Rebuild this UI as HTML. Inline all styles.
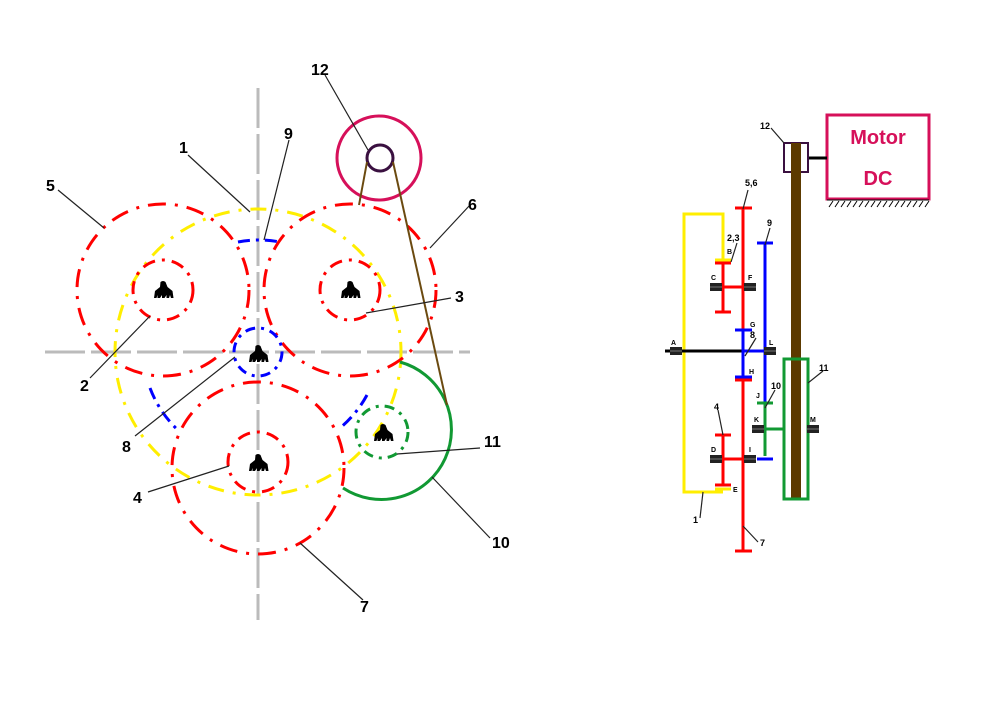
<!DOCTYPE html>
<html><head><meta charset="utf-8"><style>
html,body{margin:0;padding:0;background:#fff;}
svg{display:block;}
text{font-family:"Liberation Sans",Arial,sans-serif;font-weight:700;}
</style></head><body>
<svg width="1000" height="707" viewBox="0 0 1000 707" xmlns="http://www.w3.org/2000/svg">
<defs>
<g id="sp"><path d="M-2.5,-10 a4,4 0 0 1 5,0 l2,5 l5,4 l1,7 l-2.5,0 l-1,-3 l-1,3 l-2.5,0 l0,-3 l-2,3 l-2.5,0 l0,-3 l-2,3 l-2.5,0 l0,-3 l-1,3 l-2.5,0 l1,-7 l5,-4z" fill="#000"/></g>
<g id="br"><rect x="-6" y="-4" width="12" height="8" fill="#222"/><line x1="-6" y1="0" x2="6" y2="0" stroke="#777" stroke-width="1"/></g>
</defs>
<line x1="45" y1="352" x2="470" y2="352" stroke="#bbb" stroke-width="3" stroke-dasharray="40,6"/>
<line x1="258" y1="88" x2="258" y2="620" stroke="#bbb" stroke-width="3" stroke-dasharray="40,6"/>
<g fill="none" stroke-width="3">
<circle cx="258" cy="352" r="143" stroke="#ffee00" stroke-dasharray="16,9,3,9"/>
<circle cx="163" cy="290" r="86" stroke="#f00" stroke-dasharray="18,9,3,9"/>
<circle cx="350" cy="290" r="86" stroke="#f00" stroke-dasharray="18,9,3,9"/>
<circle cx="258" cy="468" r="86" stroke="#f00" stroke-dasharray="18,9,3,9"/>
<circle cx="163" cy="290" r="30" stroke="#f00" stroke-dasharray="13,7,3,7"/>
<circle cx="350" cy="290" r="30" stroke="#f00" stroke-dasharray="13,7,3,7"/>
<circle cx="258" cy="462" r="30" stroke="#f00" stroke-dasharray="13,7,3,7"/>
<circle cx="258" cy="352" r="24" stroke="#00f" stroke-dasharray="10,6,3,6"/>
<path d="M238,242 A112,112 0 0 1 280,242" stroke="#00f" stroke-dasharray="12,6,3,6"/>
<path d="M150,388 A112,112 0 0 0 180,432" stroke="#00f" stroke-dasharray="12,6,3,6"/>
<path d="M367,395 A112,112 0 0 1 340,428" stroke="#00f" stroke-dasharray="12,6,3,6"/>
<circle cx="382" cy="432" r="26" stroke="#119933" stroke-dasharray="10,6,3,6"/>
<path d="M400,362 A70,70 0 1 1 343,488" stroke="#119933"/>
<circle cx="379" cy="158" r="42" stroke="#d6105a"/>
<circle cx="380" cy="158" r="13" stroke="#3a1040"/>
<polyline points="367,162 359,205" stroke="#6b4a10" stroke-width="2"/>
<polyline points="393,162 407,225 447,405" stroke="#6b4a10" stroke-width="2"/>
</g>
<use href="#sp" x="163" y="292"/><use href="#sp" x="350" y="292"/><use href="#sp" x="258" y="356"/><use href="#sp" x="258" y="465"/><use href="#sp" x="383" y="435"/>
<g stroke="#222" stroke-width="1.2">
<line x1="58" y1="190" x2="104" y2="228"/>
<line x1="188" y1="155" x2="250" y2="212"/>
<line x1="289" y1="140" x2="264" y2="240"/>
<line x1="325" y1="75" x2="368" y2="150"/>
<line x1="470" y1="205" x2="430" y2="248"/>
<line x1="451" y1="298" x2="366" y2="313"/>
<line x1="90" y1="378" x2="150" y2="316"/>
<line x1="135" y1="436" x2="235" y2="357"/>
<line x1="148" y1="492" x2="229" y2="466"/>
<line x1="480" y1="448" x2="397" y2="454"/>
<line x1="490" y1="538" x2="432" y2="477"/>
<line x1="363" y1="600" x2="300" y2="543"/>
</g>
<g font-size="16" fill="#000">
<text x="46" y="191">5</text><text x="179" y="153">1</text><text x="284" y="139">9</text><text x="311" y="75">12</text>
<text x="468" y="210">6</text><text x="455" y="302">3</text><text x="80" y="391">2</text><text x="122" y="452">8</text>
<text x="133" y="503">4</text><text x="484" y="447">11</text><text x="492" y="548">10</text><text x="360" y="612">7</text>
</g>
<rect x="827" y="115" width="102" height="84" fill="none" stroke="#d6105a" stroke-width="3"/>
<text x="878" y="144" font-size="20" fill="#d6105a" text-anchor="middle">Motor</text>
<text x="878" y="185" font-size="20" fill="#d6105a" text-anchor="middle">DC</text>
<line x1="827" y1="200" x2="929" y2="200" stroke="#000" stroke-width="1"/>
<path d="M829,207 l4,-6 M835,207 l4,-6 M841,207 l4,-6 M847,207 l4,-6 M853,207 l4,-6 M859,207 l4,-6 M865,207 l4,-6 M871,207 l4,-6 M877,207 l4,-6 M883,207 l4,-6 M889,207 l4,-6 M895,207 l4,-6 M901,207 l4,-6 M907,207 l4,-6 M913,207 l4,-6 M919,207 l4,-6 M925,207 l4,-6" stroke="#000" stroke-width="1"/>
<line x1="808" y1="158" x2="827" y2="158" stroke="#000" stroke-width="3"/>
<rect x="784" y="143" width="24" height="29" fill="none" stroke="#3a1040" stroke-width="2"/>
<rect x="791" y="143" width="10" height="357" fill="#5c3a00"/>
<rect x="784" y="359" width="24" height="140" fill="none" stroke="#119933" stroke-width="3"/>
<g fill="none" stroke-width="3">
<polyline points="723,260 723,214 684,214 684,492 723,492" stroke="#ffee00"/>
<line x1="715" y1="260" x2="731" y2="260" stroke="#ffee00"/>
<line x1="715" y1="489" x2="731" y2="489" stroke="#ffee00"/>
<line x1="665" y1="351" x2="743" y2="351" stroke="#000"/>
<line x1="743" y1="208" x2="743" y2="551" stroke="#f00"/>
<line x1="735" y1="208" x2="752" y2="208" stroke="#f00"/>
<line x1="735" y1="551" x2="752" y2="551" stroke="#f00"/>
<line x1="723" y1="263" x2="723" y2="312" stroke="#f00"/>
<line x1="715" y1="263" x2="731" y2="263" stroke="#f00"/>
<line x1="715" y1="312" x2="731" y2="312" stroke="#f00"/>
<line x1="717" y1="287" x2="750" y2="287" stroke="#f00"/>
<line x1="723" y1="435" x2="723" y2="485" stroke="#f00"/>
<line x1="715" y1="435" x2="731" y2="435" stroke="#f00"/>
<line x1="715" y1="485" x2="731" y2="485" stroke="#f00"/>
<line x1="717" y1="459" x2="750" y2="459" stroke="#f00"/>
<line x1="735" y1="380" x2="752" y2="380" stroke="#f00"/>
<line x1="743" y1="330" x2="743" y2="377" stroke="#00f"/>
<line x1="735" y1="330" x2="752" y2="330" stroke="#00f"/>
<line x1="735" y1="377" x2="752" y2="377" stroke="#00f"/>
<line x1="743" y1="351" x2="770" y2="351" stroke="#00f"/>
<line x1="765" y1="243" x2="765" y2="402" stroke="#00f"/>
<line x1="757" y1="243" x2="773" y2="243" stroke="#00f"/>
<line x1="757" y1="459" x2="773" y2="459" stroke="#00f"/>
<line x1="765" y1="403" x2="765" y2="456" stroke="#119933"/>
<line x1="757" y1="403" x2="773" y2="403" stroke="#119933"/>
<line x1="765" y1="429" x2="784" y2="429" stroke="#119933"/>
</g>
<use href="#br" x="676" y="351"/><use href="#br" x="770" y="351"/><use href="#br" x="716" y="287"/><use href="#br" x="750" y="287"/>
<use href="#br" x="716" y="459"/><use href="#br" x="750" y="459"/><use href="#br" x="758" y="429"/><use href="#br" x="813" y="429"/>
<g stroke="#222" stroke-width="1.2">
<line x1="771" y1="128" x2="784" y2="143"/>
<line x1="748" y1="190" x2="743" y2="209"/>
<line x1="737" y1="243" x2="731" y2="262"/>
<line x1="770" y1="228" x2="765" y2="245"/>
<line x1="756" y1="338" x2="745" y2="356"/>
<line x1="775" y1="390" x2="765" y2="408"/>
<line x1="823" y1="371" x2="808" y2="383"/>
<line x1="718" y1="410" x2="723" y2="435"/>
<line x1="700" y1="518" x2="703" y2="492"/>
<line x1="758" y1="542" x2="743" y2="526"/>
</g>
<g font-size="9" fill="#000">
<text x="760" y="129">12</text><text x="745" y="186">5,6</text><text x="727" y="241">2,3</text><text x="767" y="226">9</text>
<text x="750" y="338">8</text><text x="771" y="389">10</text><text x="819" y="371">11</text><text x="714" y="410">4</text>
<text x="693" y="523">1</text><text x="760" y="546">7</text>
</g>
<g font-size="7" fill="#000">
<text x="727" y="254">B</text><text x="711" y="280">C</text><text x="748" y="280">F</text><text x="750" y="327">G</text>
<text x="671" y="345">A</text><text x="769" y="345">L</text><text x="749" y="374">H</text><text x="756" y="398">J</text>
<text x="754" y="422">K</text><text x="810" y="422">M</text><text x="711" y="452">D</text><text x="749" y="452">I</text><text x="733" y="492">E</text>
</g>
</svg>
</body></html>
